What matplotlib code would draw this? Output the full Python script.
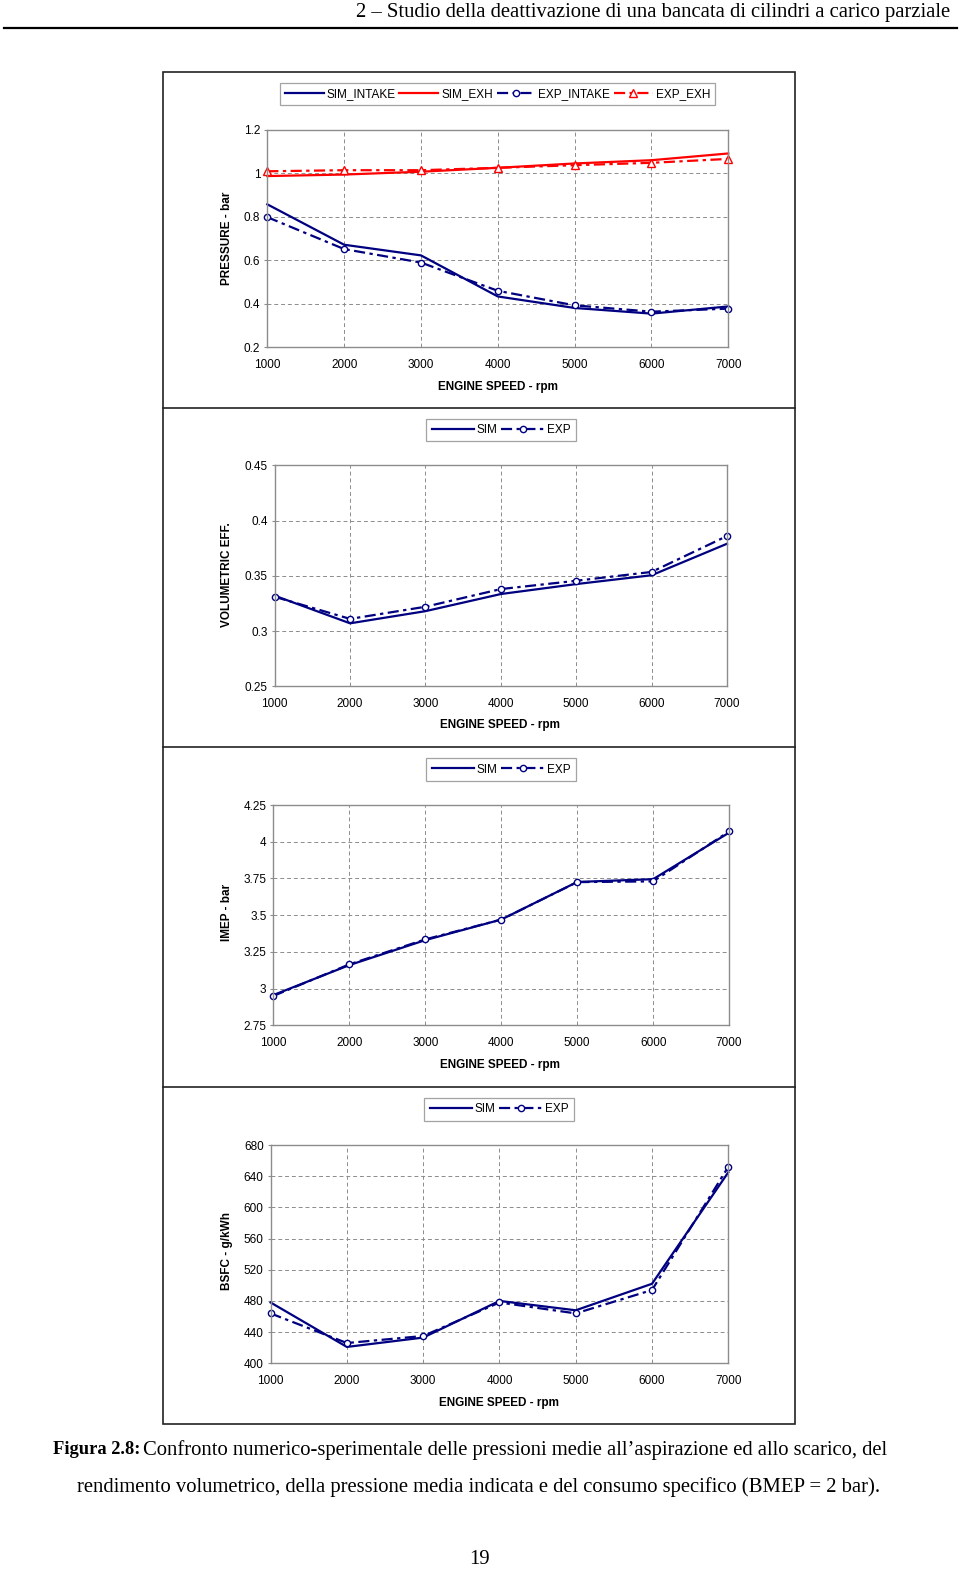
import matplotlib
matplotlib.use('Agg')
import matplotlib.pyplot as plt
from matplotlib.patches import Rectangle
from matplotlib.lines import Line2D
from matplotlib.ticker import FormatStrFormatter

W, H = 960, 1573

# velocita motore
rpm = [1000, 2000, 3000, 4000, 5000, 6000, 7000]

# pressioni medie aspirazione / scarico - bar
sim_intake = [0.858, 0.672, 0.623, 0.434, 0.381, 0.355, 0.388]
exp_intake = [0.799, 0.652, 0.590, 0.460, 0.393, 0.364, 0.378]
sim_exh = [0.988, 0.995, 1.008, 1.026, 1.046, 1.061, 1.092]
exp_exh = [1.010, 1.015, 1.015, 1.026, 1.038, 1.049, 1.067]

# rendimento volumetrico
sim_vol = [0.332, 0.307, 0.318, 0.3335, 0.3425, 0.3505, 0.379]
exp_vol = [0.331, 0.311, 0.322, 0.338, 0.3455, 0.3535, 0.386]

# pressione media indicata - bar
sim_imep = [2.956, 3.160, 3.330, 3.470, 3.726, 3.745, 4.062]
exp_imep = [2.950, 3.165, 3.335, 3.470, 3.725, 3.730, 4.070]

# consumo specifico - g/kWh
sim_bsfc = [478, 421, 433, 480, 468, 502, 645]
exp_bsfc = [464, 426, 435, 478, 464, 494, 652]

NAVY = '#000080'
RED = '#ff0000'
GRIGIO = '#8c8c8c'
SANS = ['Liberation Sans', 'DejaVu Sans']
SERIF = ['Liberation Serif', 'DejaVu Serif']
FS = 8.5
FS_TESTO = 14.9

plt.rcParams['font.family'] = SANS

fig = plt.figure(figsize=(W / 100, H / 100), dpi=100)


def px_axes(x0, y0, x1, y1):
    return fig.add_axes([x0 / W, 1 - y1 / H, (x1 - x0) / W, (y1 - y0) / H])


def stile(ax, ylim, yticks, fmt, ylab, ylab_y, xlab_y, xlab_x):
    ax.set_xlim(1000, 7000)
    ax.set_xticks(rpm)
    ax.set_ylim(*ylim)
    ax.set_yticks(yticks)
    ax.yaxis.set_major_formatter(FormatStrFormatter(fmt))
    ax.grid(True, color=GRIGIO, linestyle=(0, (4, 3)), linewidth=0.7)
    ax.set_axisbelow(True)
    for s in ax.spines.values():
        s.set_color(GRIGIO)
        s.set_linewidth(1.0)
    ax.tick_params(axis='y', length=2.5, width=0.8, color=GRIGIO, pad=2.5, labelsize=FS)
    ax.tick_params(axis='x', length=0, pad=8.5, labelsize=FS)
    fig.text(227 / W, 1 - ylab_y / H, ylab, rotation=90, ha='center', va='center',
             fontsize=FS, fontweight='bold')
    fig.text(xlab_x / W, 1 - xlab_y / H, 'ENGINE SPEED - rpm', ha='center', va='center',
             fontsize=FS, fontweight='bold')


def legenda(ax, cx, cy, hl=3.6):
    leg = ax.legend(loc='center', bbox_to_anchor=(cx / W, 1 - cy / H),
                    bbox_transform=fig.transFigure, ncol=4, frameon=True,
                    fancybox=False, edgecolor=GRIGIO, fontsize=FS,
                    handlelength=hl, handletextpad=0.25, columnspacing=0.3,
                    borderpad=0.45, borderaxespad=0)
    leg.get_frame().set_linewidth(0.9)


sim_kw = dict(color=NAVY, lw=1.6, clip_on=False)
exp_kw = dict(color=NAVY, lw=1.6, linestyle=(0, (5, 2, 1.5, 2)), marker='o', ms=4.5,
              mfc='white', mew=1.0, clip_on=False)

# 1 - pressioni
ax1 = px_axes(267.3, 130, 728.3, 347.3)
ax1.plot(rpm, sim_intake, label='SIM_INTAKE', **sim_kw)
ax1.plot(rpm, sim_exh, label='SIM_EXH', color=RED, lw=1.6, clip_on=False)
ax1.plot(rpm, exp_intake, label='EXP_INTAKE', **exp_kw)
ax1.plot(rpm, exp_exh, label='EXP_EXH', color=RED, lw=1.6, linestyle=(0, (5, 2, 1.5, 2)),
         marker='^', ms=5.5, mfc='white', mew=1.0, clip_on=False)
stile(ax1, (0.2, 1.2), [0.2, 0.4, 0.6, 0.8, 1.0, 1.2], '%g', 'PRESSURE - bar', 238, 387, 498)
legenda(ax1, 497.5, 94, hl=3.3)

# 2 - rendimento volumetrico
ax2 = px_axes(274.7, 465.3, 727.0, 686.3)
ax2.plot(rpm, sim_vol, label='SIM', **sim_kw)
ax2.plot(rpm, exp_vol, label='EXP', **exp_kw)
stile(ax2, (0.25, 0.45), [0.25, 0.3, 0.35, 0.4, 0.45], '%g', 'VOLUMETRIC EFF.', 575, 725, 500)
legenda(ax2, 501, 430)

# 3 - IMEP
ax3 = px_axes(273.4, 805, 729.1, 1025.3)
ax3.plot(rpm, sim_imep, label='SIM', **sim_kw)
ax3.plot(rpm, exp_imep, label='EXP', **exp_kw)
stile(ax3, (2.75, 4.25), [2.75, 3, 3.25, 3.5, 3.75, 4, 4.25], '%g', 'IMEP - bar', 912, 1065, 500)
legenda(ax3, 501, 769.5)

# 4 - BSFC
ax4 = px_axes(270.6, 1145, 728.3, 1363.3)
ax4.plot(rpm, sim_bsfc, label='SIM', **sim_kw)
ax4.plot(rpm, exp_bsfc, label='EXP', **exp_kw)
stile(ax4, (400, 680), [400, 440, 480, 520, 560, 600, 640, 680], '%g', 'BSFC - g/kWh', 1251, 1403, 499)
legenda(ax4, 499, 1109.5)

# cornice e separatori
fig.add_artist(Rectangle((163.3 / W, 1 - 1424 / H), (795 - 163.3) / W, (1424 - 71.7) / H,
                         transform=fig.transFigure, fill=False, edgecolor='#222222', lw=1.2))
for yy in [408.3, 746.7, 1086.7]:
    fig.add_artist(Line2D([163.3 / W, 795 / W], [1 - yy / H, 1 - yy / H],
                          transform=fig.transFigure, color='#222222', lw=1.2))

# intestazione
fig.text(950 / W, 1 - 12 / H, '2 \u2013 Studio della deattivazione di una bancata di cilindri a carico parziale',
         ha='right', va='center', family=SERIF, fontsize=FS_TESTO)
fig.add_artist(Line2D([4 / W, 957 / W], [1 - 28 / H, 1 - 28 / H], transform=fig.transFigure,
                      color='black', lw=1.6))

# didascalia
fig.text(53.3 / W, 1 - 1450 / H, 'Figura 2.8:', ha='left', va='center', family=SERIF,
         fontsize=13.3, fontweight='bold')
fig.text(143 / W, 1 - 1450 / H,
         'Confronto numerico-sperimentale delle pressioni medie all\u2019aspirazione ed allo scarico, del',
         ha='left', va='center', family=SERIF, fontsize=FS_TESTO)
fig.text(479 / W, 1 - 1487 / H,
         'rendimento volumetrico, della pressione media indicata e del consumo specifico (BMEP = 2 bar).',
         ha='center', va='center', family=SERIF, fontsize=FS_TESTO)
fig.text(479.5 / W, 1 - 1559 / H, '19', ha='center', va='center', family=SERIF, fontsize=FS_TESTO)

fig.savefig('out.png', dpi=100)
